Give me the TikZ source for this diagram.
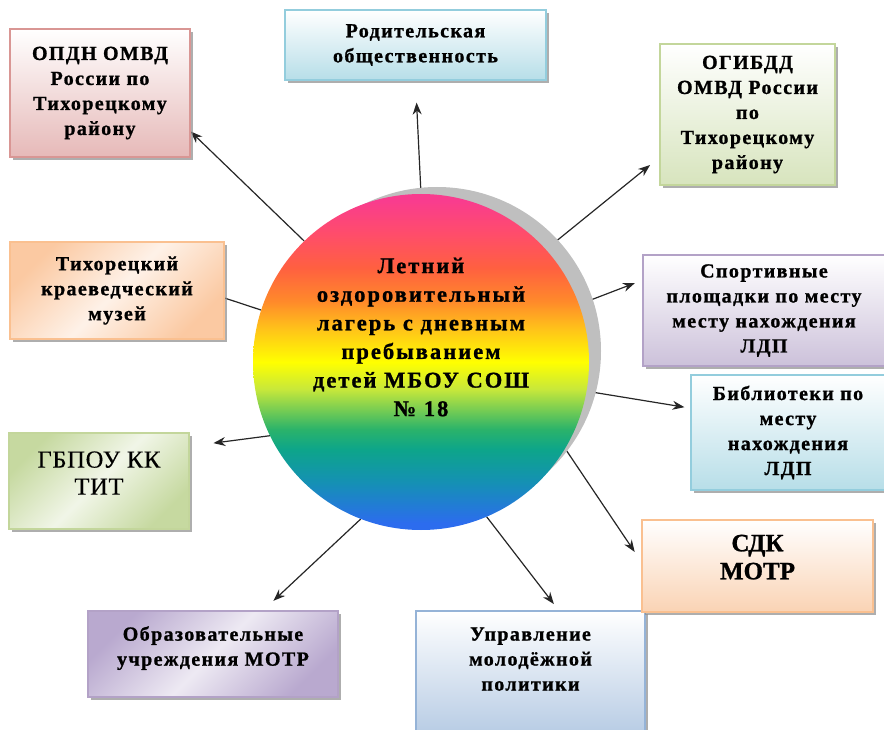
\documentclass[tikz,border=0pt]{standalone}
\usepackage{fontspec}
\setmainfont{Liberation Serif}
\usetikzlibrary{arrows.meta,shadows,backgrounds}

% colours of the ring
\definecolor{rbpink}{HTML}{F93C8E}
\definecolor{rbrose}{HTML}{FF4D6A}
\definecolor{rbred}{HTML}{FF6040}
\definecolor{rborange}{HTML}{FF8A2A}
\definecolor{rbgold}{HTML}{FFC21A}
\definecolor{rbyellow}{HTML}{FFFF00}
\definecolor{rblime}{HTML}{C8E83A}
\definecolor{rbgreen}{HTML}{2BB36A}
\definecolor{rbteal}{HTML}{0DA58A}
\definecolor{rbcyan}{HTML}{1590B5}
\definecolor{rbblue}{HTML}{2C6CEE}
\definecolor{shadowgray}{HTML}{BFBFBF}
% colours of the boxes
\definecolor{opdnline}{HTML}{D99694}
\definecolor{opdnfill}{HTML}{E6B9B8}
\definecolor{parline}{HTML}{93CDDD}
\definecolor{parfill}{HTML}{B7DEE8}
\definecolor{gibline}{HTML}{C3D69B}
\definecolor{gibfill}{HTML}{D7E4BD}
\definecolor{musline}{HTML}{FAC090}
\definecolor{musfill}{HTML}{FBC9A2}
\definecolor{sdkfill}{HTML}{FAD3B4}
\definecolor{sportline}{HTML}{B3A2C7}
\definecolor{sportfill}{HTML}{CCC1DA}
\definecolor{gbfill}{HTML}{C6D9A0}
\definecolor{edufill}{HTML}{B9A9CF}
\definecolor{youthline}{HTML}{95B3D7}
\definecolor{youthfill}{HTML}{B9CDE5}

\pgfdeclareverticalshading{rainbow}{100bp}{color(0bp)=(rbblue); color(26bp)=(rbblue);
  color(32bp)=(rbcyan); color(37bp)=(rbteal); color(40bp)=(rbgreen); color(46bp)=(rblime);
  color(50bp)=(rbyellow); color(55bp)=(rbgold); color(59bp)=(rborange); color(64bp)=(rbred);
  color(69bp)=(rbrose); color(74bp)=(rbpink); color(100bp)=(rbpink)}

\newcommand\campfont{\fontsize{22.5}{28.6}\bfseries\addfontfeatures{LetterSpace=9,FakeBold=1}}
\newcommand\boxfont{\fontsize{20}{25}\bfseries\addfontfeatures{LetterSpace=7,FakeBold=1}}
\newcommand\plainfont{\fontsize{24.5}{27}\mdseries\addfontfeatures{LetterSpace=3,FakeBold=0.4}}
\newcommand\sdkfont{\fontsize{25}{28}\bfseries\addfontfeatures{FakeBold=1}}

\begin{document}
\begin{tikzpicture}[x=1pt,y=-1pt,>={Stealth[length=12pt,width=9pt]},
	box/.style={rectangle,line width=1.2pt,align=center,font=\boxfont,
		drop shadow={shadow xshift=3pt,shadow yshift=-3pt,fill=black!45,opacity=.7}},
	vbox/.style 2 args={box,draw=#1,top color=white,bottom color=#2},
	dbox/.style 2 args={box,draw=#1,left color=#2,right color=#2,middle color=white!75!#2,shading angle=45},
	link/.style={line width=1.2pt,draw=black!85}]
	\useasboundingbox (0,0) rectangle (884,730);
	%	\draw [color=gray!50] [step=50] (0,0) grid (884,730);
	
	% the camp in the middle
	\node[circle,fill=shadowgray,minimum size=328pt] (campshadow) at (437,351) {};
	\node[circle,shading=rainbow,minimum size=336pt] (camp) at (421,362) {};
	\node[align=center,font=\campfont] (camptitle) at (421,337) {Летний\\оздоровительный\\лагерь с дневным\\пребыванием\\детей МБОУ СОШ\\№ 18};
	
	% partners round it
	\node[vbox={opdnline}{opdnfill},minimum width=180pt,minimum height=128pt] (opdn) at (100,93) {ОПДН ОМВД\\России по\\Тихорецкому\\району};
	\node[vbox={parline}{parfill},minimum width=261pt,minimum height=70pt] (parents) at (415.5,45) {Родительская\\общественность};
	\node[vbox={gibline}{gibfill},minimum width=175pt,minimum height=141pt] (gibdd) at (747.5,114.5) {ОГИБДД\\ОМВД России\\по\\Тихорецкому\\району};
	\node[dbox={musline}{musfill},minimum width=214pt,minimum height=97pt] (museum) at (117,290.5) {Тихорецкий\\краеведческий\\музей};
	\node[vbox={sportline}{sportfill},minimum width=242pt,minimum height=111pt] (sport) at (764,310.5) {Спортивные\\площадки по месту\\месту нахождения\\ЛДП};
	\node[vbox={parline}{parfill},minimum width=194pt,minimum height=115pt] (library) at (788,432.5) {Библиотеки по\\месту\\нахождения\\ЛДП};
	\node[dbox={gibline}{gbfill},minimum width=180pt,minimum height=96pt,font=\plainfont,text depth=16pt] (gbpou) at (99,481) {ГБПОУ КК\\ТИТ};
	\node[dbox={sportline}{edufill},minimum width=250pt,minimum height=86pt,text depth=16pt] (schools) at (213,654) {Образовательные\\учреждения МОТР};
	\node[vbox={youthline}{youthfill},minimum width=229pt,minimum height=120pt,text depth=24pt] (youth) at (530.5,671) {Управление\\молодёжной\\политики};
	\node[vbox={musline}{sdkfill},minimum width=231pt,minimum height=92pt,font=\sdkfont,text depth=18pt] (sdk) at (757.5,566) {СДК\\МОТР};
	
	\begin{scope}[on background layer]
		\draw[link,->] (camp.134) -- (opdn.-23);
		\draw[link,->,shorten >=22pt] (camp.north) -- (parents.south);
		\draw[link,->,shorten >=12pt] (camp.42) -- (gibdd.206);
		\draw[link] (camp.162) -- (museum.-4);
		\draw[link,->,shorten >=8pt] (camp.20) -- (sport.166);
		\draw[link,->,shorten >=6pt] (camp.-10) -- (library.166);
		\draw[link,->,shorten >=24pt] (camp.206) -- (gbpou.21);
		\draw[link,->,shorten >=14pt] (camp.-111) -- (schools.41);
		\draw[link,->,shorten >=8pt] (camp.-67) -- (youth.65);
		\draw[link,->,shorten >=12pt] (camp.-31) -- (sdk.178);
	\end{scope}
\end{tikzpicture}
\end{document}
